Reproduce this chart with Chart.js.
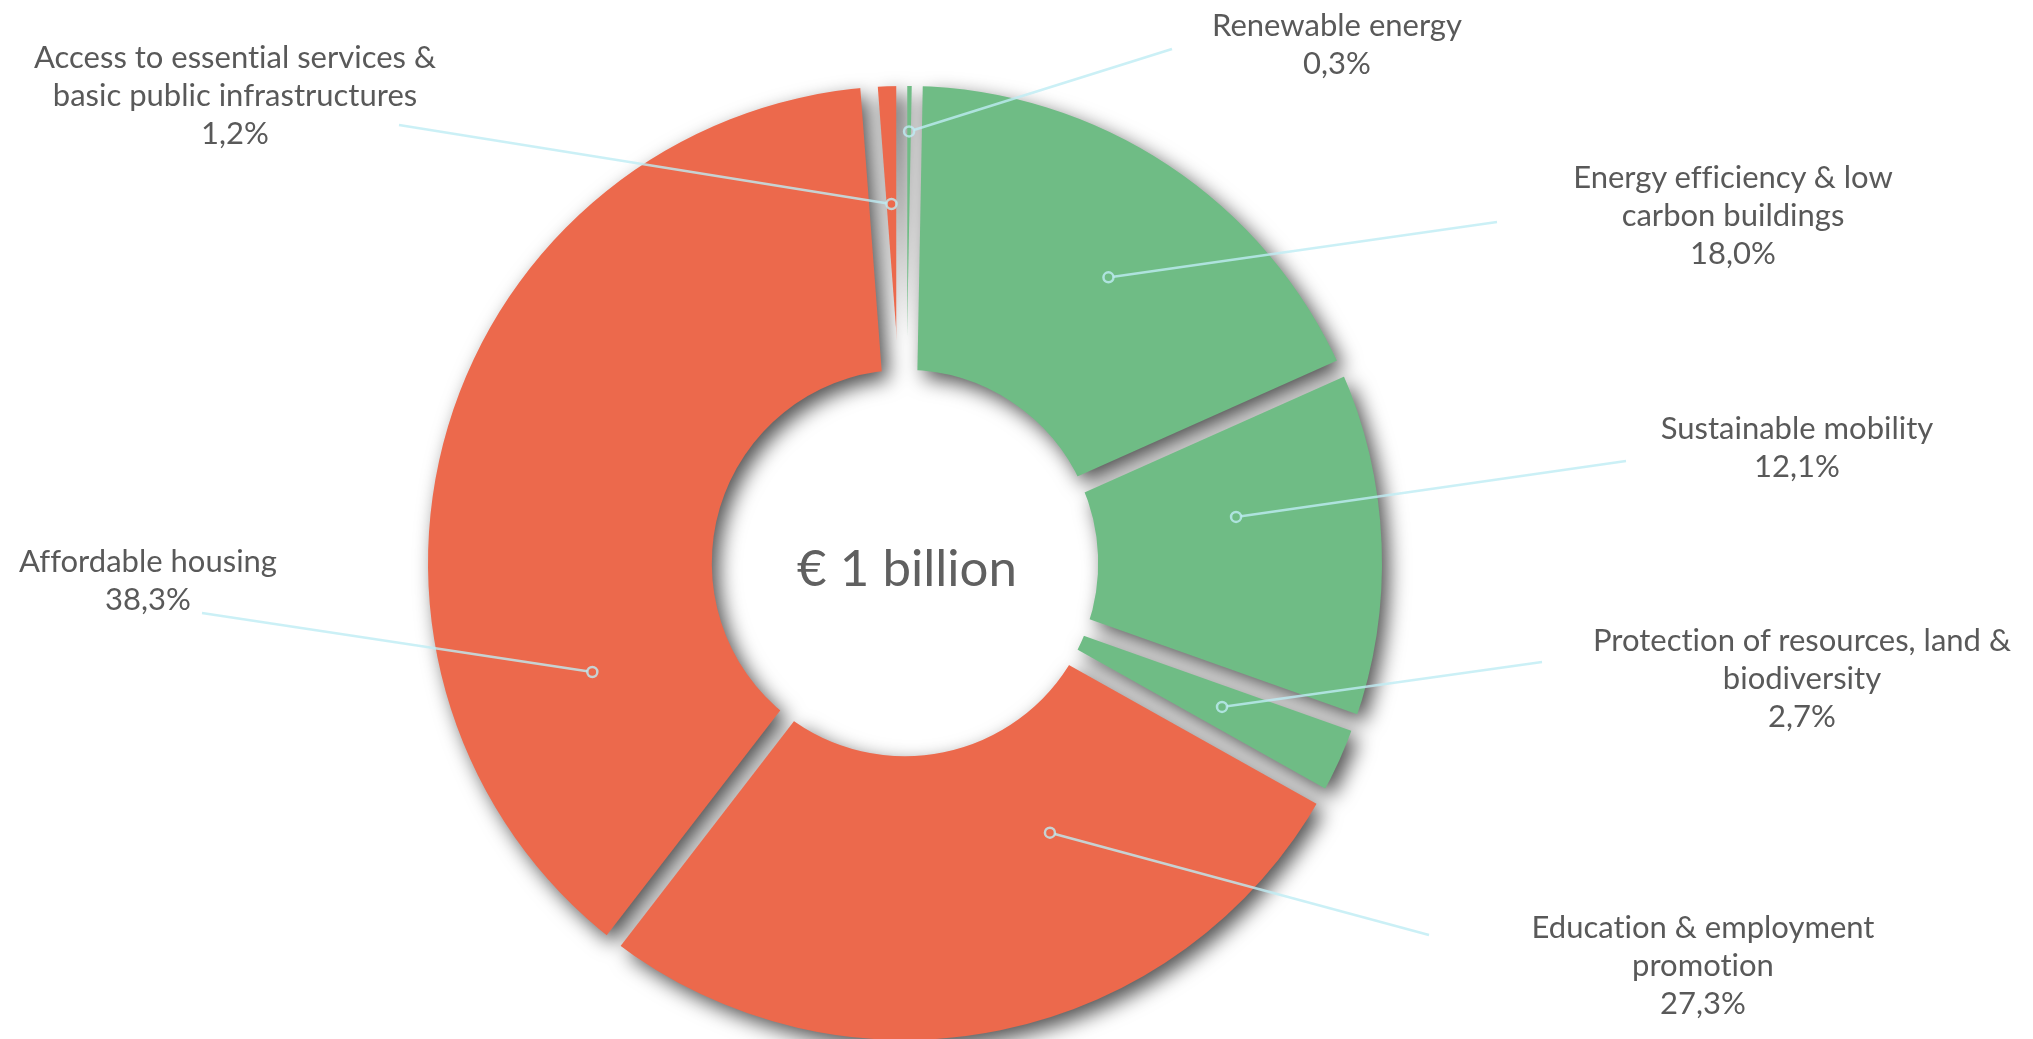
<!DOCTYPE html>
<html lang="en">
<head>
    <meta charset="UTF-8">
    <title>Allocation of proceeds by category</title>
    <script src="https://cdn.jsdelivr.net/npm/chart.js"></script>
    <style>
        html, body { margin: 0; background: #fff; }
        .stage { position: relative; width: 2033px; height: 1039px; overflow: hidden; }
        .stage canvas { position: absolute; left: 0; top: 0; }
        .lbl {
            position: absolute;
            transform: translateX(-50%);
            white-space: nowrap;
            text-align: center;
            font-family: Lato, "Noto Sans", sans-serif;
            font-size: 31px;
            line-height: 38px;
            color: #595959;
            font-variant-ligatures: no-common-ligatures;
        }
        .total {
            position: absolute;
            transform: translateX(-50%);
            white-space: nowrap;
            font-family: Lato, "Noto Sans", sans-serif;
            font-size: 51px;
            line-height: 60px;
            color: #606060;
        }
    </style>
</head>
<body>
    <div class="stage" id="stage">
        <canvas id="donut" width="2033" height="1039"></canvas>
    </div>

    <script>
        // categories, clockwise from 12 o'clock
        const categories = [
            ['Renewable energy'],
            ['Energy efficiency & low', 'carbon buildings'],
            ['Sustainable mobility'],
            ['Protection of resources, land &', 'biodiversity'],
            ['Education & employment', 'promotion'],
            ['Affordable housing'],
            ['Access to essential services &', 'basic public infrastructures']
        ];
        const shares = [0.3, 18.0, 12.1, 2.7, 27.3, 38.3, 1.2];   // % of total
        const totalLabel = '€ 1 billion';

        const RED = '#EC694C';
        const GREEN = '#6FBC85';
        const sliceColors = [GREEN, GREEN, GREEN, GREEN, RED, RED, RED];

        // label placement: text centre x, first baseline y, leader end (lx, ly),
        // leader anchor as fraction along the slice (t) and across the ring (k)
        const labelLayout = [
            { x: 1337, y: 36,  lx: 1172, ly: 49,  t: 0.5,  k: 0.84 },
            { x: 1733, y: 188, lx: 1497, ly: 222, t: 0.53, k: 0.555 },
            { x: 1797, y: 439, lx: 1626, ly: 461, t: 0.37, k: 0.497 },
            { x: 1802, y: 651, lx: 1542, ly: 662, t: 0.5,  k: 0.546 },
            { x: 1703, y: 938, lx: 1429, ly: 935, t: 0.33, k: 0.398 },
            { x: 148,  y: 572, lx: 202,  ly: 613, t: 0.24, k: 0.486 },
            { x: 235,  y: 68,  lx: 399,  ly: 125, t: 0.5,  k: 0.585 }
        ];

        const GAP = 17.5;           // width of the cut between neighbouring slices
        const LINE_BASELINE = 31;   // baseline offset inside a 38px label line

        const fmtPct = v => v.toFixed(1).replace('.', ',') + '%';

        // cut even-width gaps between slices, then cast a soft drop shadow from the ring
        const ringEffects = {
            id: 'ringEffects',
            afterDatasetsDraw(chart) {
                const ctx = chart.ctx;
                const arcs = chart.getDatasetMeta(0).data;
                const n = arcs.length;

                ctx.save();
                ctx.globalCompositeOperation = 'destination-out';
                ctx.fillStyle = '#000';
                arcs.forEach((arc, i) => {
                    const next = arcs[(i + 1) % n];
                    const a = arc.endAngle;
                    const before = Math.min(GAP / 2, 0.25 * (arc.endAngle - arc.startAngle) * arc.outerRadius);
                    const after = Math.min(GAP / 2, 0.25 * (next.endAngle - next.startAngle) * next.outerRadius);
                    const ux = Math.cos(a), uy = Math.sin(a);
                    const nx = -uy, ny = ux;
                    const L = arc.outerRadius + 40;
                    ctx.beginPath();
                    ctx.moveTo(arc.x - nx * before, arc.y - ny * before);
                    ctx.lineTo(arc.x + ux * L - nx * before, arc.y + uy * L - ny * before);
                    ctx.lineTo(arc.x + ux * L + nx * after, arc.y + uy * L + ny * after);
                    ctx.lineTo(arc.x + nx * after, arc.y + ny * after);
                    ctx.closePath();
                    ctx.fill();
                });
                ctx.restore();

                const c = chart.canvas;
                const copy = document.createElement('canvas');
                copy.width = c.width;
                copy.height = c.height;
                copy.getContext('2d').drawImage(c, 0, 0);
                ctx.save();
                ctx.setTransform(1, 0, 0, 1, 0, 0);
                ctx.clearRect(0, 0, c.width, c.height);
                ctx.shadowColor = 'rgba(0, 0, 0, 0.68)';
                ctx.shadowBlur = 20;
                ctx.shadowOffsetX = 7;
                ctx.shadowOffsetY = 8;
                ctx.drawImage(copy, 0, 0);
                ctx.restore();
            },
            afterDraw(chart) {
                const ctx = chart.ctx;
                const arcs = chart.getDatasetMeta(0).data;
                ctx.save();
                ctx.strokeStyle = 'rgba(190, 236, 244, 0.8)';
                ctx.lineWidth = 2.5;
                labelLayout.forEach((p, i) => {
                    const arc = arcs[i];
                    const a = arc.startAngle + p.t * (arc.endAngle - arc.startAngle);
                    const r = arc.innerRadius + p.k * (arc.outerRadius - arc.innerRadius);
                    const px = arc.x + r * Math.cos(a);
                    const py = arc.y + r * Math.sin(a);
                    const dx = p.lx - px, dy = p.ly - py;
                    const d = Math.hypot(dx, dy);
                    ctx.beginPath();
                    ctx.moveTo(px + dx / d * 5, py + dy / d * 5);
                    ctx.lineTo(p.lx, p.ly);
                    ctx.stroke();
                    ctx.beginPath();
                    ctx.arc(px, py, 5, 0, Math.PI * 2);
                    ctx.stroke();
                });
                ctx.restore();
            }
        };

        const chart = new Chart(document.getElementById('donut'), {
            type: 'doughnut',
            data: {
                labels: categories,
                datasets: [{
                    data: shares,
                    backgroundColor: sliceColors,
                    borderWidth: 0
                }]
            },
            options: {
                responsive: false,
                animation: false,
                events: [],
                radius: 477,
                cutout: '40.5%',
                rotation: 0,
                layout: { padding: { left: 0, right: 223, top: 87, bottom: 0 } },
                plugins: {
                    legend: { display: false },
                    tooltip: { enabled: false }
                }
            },
            plugins: [ringEffects]
        });

        // category labels and the total in the hole
        const stage = document.getElementById('stage');
        labelLayout.forEach((p, i) => {
            const div = document.createElement('div');
            div.className = 'lbl';
            div.style.left = p.x + 'px';
            div.style.top = (p.y - LINE_BASELINE) + 'px';
            div.innerHTML = categories[i].concat(fmtPct(shares[i]))
                .map(s => s.replace(/&/g, '&amp;')).join('<br>');
            stage.appendChild(div);
        });

        const total = document.createElement('div');
        total.className = 'total';
        total.style.left = '907px';
        total.style.top = (587 - 50) + 'px';
        total.textContent = totalLabel;
        stage.appendChild(total);
    </script>
</body>
</html>
